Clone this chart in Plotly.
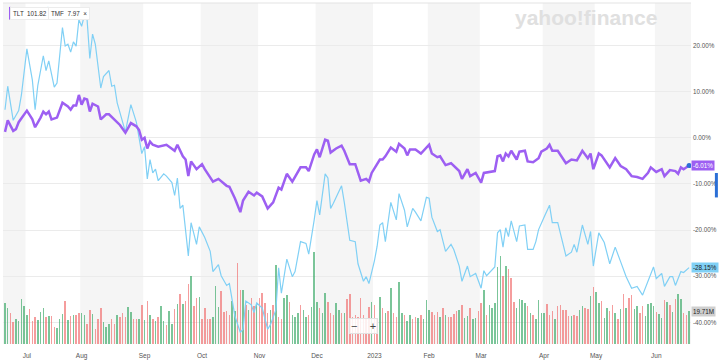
import pandas as pd
import plotly.graph_objects as go

# ---------------- data ----------------
holidays = ["2022-07-04", "2022-09-05", "2022-11-24", "2022-12-26", "2023-01-02",
            "2023-01-16", "2023-02-20", "2023-04-07", "2023-05-29", "2023-06-19"]
sessions = [d.strftime("%Y-%m-%d") for d in pd.bdate_range("2022-06-21", "2023-06-20")
            if d.strftime("%Y-%m-%d") not in holidays]

tlt_dates = ["2022-06-21","2022-06-22","2022-06-24","2022-06-27","2022-06-28","2022-07-01","2022-07-06","2022-07-07",
 "2022-07-11","2022-07-12","2022-07-13","2022-07-14","2022-07-15","2022-07-19","2022-07-21","2022-07-25","2022-07-26",
 "2022-07-27","2022-07-28","2022-07-29","2022-08-01","2022-08-02","2022-08-03","2022-08-04","2022-08-05","2022-08-09",
 "2022-08-10","2022-08-12","2022-08-15","2022-08-17","2022-08-19","2022-08-23","2022-08-25","2022-08-29","2022-08-30",
 "2022-08-31","2022-09-01","2022-09-02","2022-09-06","2022-09-07","2022-09-09","2022-09-14","2022-09-16","2022-09-19",
 "2022-09-20","2022-09-22","2022-09-23","2022-09-26","2022-09-27","2022-09-29","2022-10-03","2022-10-04","2022-10-07",
 "2022-10-11","2022-10-14","2022-10-17","2022-10-19","2022-10-21","2022-10-24","2022-10-26","2022-10-28","2022-10-31",
 "2022-11-02","2022-11-04","2022-11-08","2022-11-10","2022-11-11","2022-11-15","2022-11-17","2022-11-22","2022-11-25",
 "2022-11-28","2022-11-30","2022-12-01","2022-12-02","2022-12-06","2022-12-07","2022-12-08","2022-12-12","2022-12-14",
 "2022-12-15","2022-12-19","2022-12-21","2022-12-23","2022-12-28","2022-12-29","2022-12-30","2023-01-03","2023-01-05",
 "2023-01-06","2023-01-09","2023-01-11","2023-01-13","2023-01-17","2023-01-19","2023-01-20","2023-01-23","2023-01-25",
 "2023-01-27","2023-02-01","2023-02-02","2023-02-06","2023-02-07","2023-02-09","2023-02-13","2023-02-16","2023-02-17",
 "2023-02-22","2023-02-23","2023-02-27","2023-03-01","2023-03-02","2023-03-06","2023-03-08","2023-03-09","2023-03-10",
 "2023-03-13","2023-03-14","2023-03-15","2023-03-16","2023-03-20","2023-03-21","2023-03-23","2023-03-24","2023-03-28",
 "2023-03-30","2023-03-31","2023-04-04","2023-04-05","2023-04-06","2023-04-11","2023-04-14","2023-04-18","2023-04-20",
 "2023-04-24","2023-04-26","2023-04-27","2023-04-28","2023-05-02","2023-05-03","2023-05-08","2023-05-10","2023-05-12",
 "2023-05-16","2023-05-18","2023-05-22","2023-05-24","2023-05-26","2023-05-30","2023-06-01","2023-06-05","2023-06-06",
 "2023-06-08","2023-06-12","2023-06-13","2023-06-14","2023-06-15","2023-06-20"]
tlt_pct = [1.3,3.8,1.5,1.9,3.4,5.9,4.0,2.3,
 4.4,5.7,5.1,5.7,4.0,4.4,7.6,6.8,6.1,
 7.0,7.0,9.3,7.2,8.5,8.3,5.7,7.4,6.8,
 4.0,5.1,5.1,4.0,2.8,1.1,3.2,2.5,1.7,
 -0.4,0.0,-2.3,-0.8,-1.5,-1.9,-1.5,-2.3,-2.8,
 -1.5,-4.0,-4.7,-8.3,-5.1,-6.8,-5.7,-6.8,-9.5,
 -8.9,-10.4,-10.6,-13.1,-16.1,-13.6,-11.7,-12.5,-11.9,
 -12.7,-15.3,-14.0,-10.8,-11.2,-7.8,-9.5,-6.4,-6.4,
 -7.2,-3.6,-2.5,-4.2,-0.4,-0.6,-3.2,-2.3,-1.7,
 -2.8,-5.7,-5.7,-9.3,-8.9,-9.5,-7.6,-6.6,-4.7,
 -4.7,-4.0,-2.1,-3.0,-1.3,-2.3,-3.8,-2.5,-2.5,
 -3.4,-1.5,-3.4,-4.2,-4.0,-5.9,-5.5,-7.2,-8.9,
 -6.8,-8.3,-7.6,-9.7,-7.6,-7.4,-7.2,-4.0,-3.8,
 -5.1,-3.4,-4.0,-2.8,-4.7,-3.0,-2.8,-5.1,-5.3,
 -4.4,-3.0,-2.3,-1.5,-2.8,-2.8,-5.5,-4.7,-4.9,
 -2.8,-4.4,-3.4,-6.8,-3.4,-3.8,-6.4,-4.4,-6.1,
 -6.8,-8.3,-8.5,-8.9,-7.6,-6.4,-7.4,-6.8,-8.3,
 -7.0,-7.2,-7.8,-6.4,-6.8,-6.01]

tmf_dates = ["2022-06-21","2022-06-22","2022-06-24","2022-06-28","2022-06-29","2022-07-01","2022-07-06","2022-07-07",
 "2022-07-08","2022-07-12","2022-07-13","2022-07-14","2022-07-18","2022-07-19","2022-07-21","2022-07-22","2022-07-25",
 "2022-07-26","2022-07-27","2022-07-28","2022-07-29","2022-08-01","2022-08-02","2022-08-03","2022-08-04","2022-08-05",
 "2022-08-08","2022-08-10","2022-08-11","2022-08-15","2022-08-16","2022-08-17","2022-08-18","2022-08-23","2022-08-25",
 "2022-08-26","2022-08-29","2022-08-31","2022-09-01","2022-09-02","2022-09-06","2022-09-07","2022-09-08","2022-09-09",
 "2022-09-13","2022-09-14","2022-09-16","2022-09-19","2022-09-20","2022-09-21","2022-09-22","2022-09-26","2022-09-27",
 "2022-09-29","2022-09-30","2022-10-04","2022-10-06","2022-10-07","2022-10-11","2022-10-12","2022-10-14","2022-10-17",
 "2022-10-18","2022-10-19","2022-10-21","2022-10-24","2022-10-25","2022-10-26","2022-10-27","2022-10-28","2022-10-31",
 "2022-11-02","2022-11-03","2022-11-04","2022-11-07","2022-11-09","2022-11-10","2022-11-11","2022-11-15","2022-11-17",
 "2022-11-18","2022-11-22","2022-11-25","2022-11-28","2022-11-30","2022-12-01","2022-12-02","2022-12-06","2022-12-07",
 "2022-12-08","2022-12-09","2022-12-14","2022-12-15","2022-12-19","2022-12-21","2022-12-22","2022-12-27","2022-12-28",
 "2022-12-29","2023-01-03","2023-01-04","2023-01-05","2023-01-06","2023-01-09","2023-01-11","2023-01-13","2023-01-17",
 "2023-01-19","2023-01-20","2023-01-24","2023-01-25","2023-01-27","2023-01-31","2023-02-01","2023-02-02","2023-02-06",
 "2023-02-07","2023-02-09","2023-02-13","2023-02-14","2023-02-16","2023-02-17","2023-02-22","2023-02-23","2023-02-27",
 "2023-03-01","2023-03-02","2023-03-03","2023-03-08","2023-03-09","2023-03-10","2023-03-13","2023-03-14","2023-03-15",
 "2023-03-16","2023-03-20","2023-03-21","2023-03-23","2023-03-24","2023-03-28","2023-03-29","2023-03-30","2023-04-03",
 "2023-04-05","2023-04-06","2023-04-11","2023-04-14","2023-04-18","2023-04-19","2023-04-20","2023-04-24","2023-04-26",
 "2023-04-27","2023-04-28","2023-05-02","2023-05-04","2023-05-08","2023-05-10","2023-05-12","2023-05-16","2023-05-18",
 "2023-05-22","2023-05-24","2023-05-26","2023-05-31","2023-06-01","2023-06-05","2023-06-06","2023-06-08","2023-06-09",
 "2023-06-12","2023-06-14","2023-06-15","2023-06-20"]
tmf_pct = [6.1,11.2,3.8,5.9,9.3,19.3,12.5,6.1,
 11.4,17.8,14.6,16.7,11.0,11.9,23.9,19.9,20.3,
 18.6,20.8,19.9,25.6,24.2,26.5,25.6,17.2,22.5,
 20.3,10.8,13.3,14.6,11.2,11.4,7.6,1.3,7.2,
 5.5,3.4,-3.4,-1.9,-8.9,-4.7,-7.6,-6.8,-9.3,
 -7.8,-8.3,-9.7,-12.5,-8.7,-15.3,-14.6,-25.6,-18.4,
 -23.1,-19.3,-21.6,-24.6,-29.0,-27.5,-29.9,-32.0,-31.6,
 -35.2,-38.6,-42.2,-41.5,-35.4,-35.8,-36.2,-37.9,-35.8,
 -36.9,-39.4,-41.5,-40.5,-37.3,-28.2,-33.7,-26.3,-30.1,
 -29.0,-22.5,-22.9,-25.2,-17.8,-13.6,-16.7,-7.8,-8.7,
 -15.3,-14.2,-10.4,-14.0,-22.2,-22.5,-27.3,-31.1,-30.1,
 -31.6,-26.7,-23.5,-18.9,-18.4,-22.5,-14.0,-17.8,-12.1,
 -15.7,-19.3,-15.3,-16.1,-18.0,-12.9,-13.1,-17.2,-20.3,
 -19.9,-24.6,-23.1,-24.2,-27.8,-31.1,-27.8,-30.1,-29.4,
 -32.6,-28.8,-29.9,-28.0,-20.6,-19.9,-23.7,-19.5,-21.4,
 -18.0,-22.5,-19.1,-18.9,-24.2,-24.2,-22.5,-19.9,-17.2,
 -14.6,-18.4,-18.4,-25.6,-24.8,-23.1,-24.8,-18.9,-23.1,
 -20.3,-27.8,-20.6,-22.7,-27.3,-23.7,-26.9,-30.1,-32.6,
 -32.2,-34.1,-30.9,-28.0,-30.5,-29.4,-32.2,-30.1,-30.1,
 -32.0,-29.0,-29.2,-28.15]

# TLT daily volume (millions), one per session
tlt_volume_m = [
 24.8,21.8,18.9,13.0,14.8,13.6,27.1,23.0,17.7,21.2, 13.6,16.5,14.2,19.5,21.8,16.5,17.1,17.1,10.0,9.4,
 15.3,18.3,26.0,14.2,17.1,17.7,17.7,18.9,18.9,17.7, 11.8,20.7,18.3,8.9,15.3,21.8,13.0,10.0,11.8,14.8,
 11.8,17.7,16.5,18.9,16.5,22.4,19.5,15.3,15.3,14.8, 23.6,14.2,26.0,17.7,15.3,13.6,16.5,23.0,13.6,11.2,
 20.1,11.8,21.2,24.2,30.1,24.2,26.0,36.0,40.7,23.0, 27.7,28.3,14.8,21.8,14.8,15.3,16.5,34.8,22.4,31.9,
 19.5,20.1,17.7,26.0,20.1,
 48.4,32.5,32.5,23.6,20.7,27.7,23.0,24.8,27.7,30.7, 24.8,18.9,20.7,23.6,47.2,16.5,14.8,27.7,29.5,25.4,
 17.7,16.5,18.9,23.6,20.7,16.5,17.7,22.4,55.5,25.4, 21.8,18.9,30.7,25.4,18.9,17.7,24.8,20.7,18.9,18.9,
 27.1,30.1,16.5,17.7,16.5,27.7,17.7,15.9,22.4,25.4, 23.6,15.9,28.3,21.8,18.9,20.1,33.6,18.9,16.5,37.2,
 18.9,17.7,13.6,17.7,14.8,16.5,15.9,17.7,14.8,26.6, 20.7,19.5,17.7,19.5,16.5,21.8,17.7,16.5,16.5,18.3,
 20.1,
 20.7,23.6,15.9,17.1,21.8,14.8,15.9,20.1,24.8,32.5, 17.7,23.6,21.8,24.8,46.0,53.1,40.7,46.6,44.8,39.5,
 25.4,21.8,27.1,26.6,24.8,23.0,18.9,17.7,15.3,26.6, 18.9,18.9,24.2,17.7,20.1,14.8,23.0,23.6,20.7,20.7,
 17.1,17.1,17.7,17.1,20.7,23.0,21.8,21.2,28.9,34.2, 31.3,24.8,26.0,15.9,21.8,20.1,23.6,18.9,14.8,21.2,
 30.1,21.8,27.7,29.5,21.2,23.0,18.9,23.0,17.1,24.2, 24.8,23.0,19.5,18.3,15.9,26.6,25.4,23.6,19.5,27.1,
 30.1,27.1,18.9,17.7,19.71]
# g = up day, r = down day (one letter per session)
tlt_volume_dir = ("ggrrgggggr" "rrgggrgrrg" "ggrgrgrrgg" "rrgrrrgggr" "rgrrrggrrg"
                  "rgrgrgrggr" "ggrgrgrrgr" "rgrrrrgggr" "rrrgg"
                  "rrgrgrrgrr" "rrgrgrrggr" "gggrggrggg" "rggrrrggrg" "rrrrrrrrrg"
                  "rrgrgrgrrg" "grggrrgrgg" "grrrgrgrrr" "r"
                  "grggrggrrg" "rgggggrgrr" "rggggrgrgg" "ggrrrgrrrr" "rgrrggrrgr"
                  "ggrggrrgrg" "rgrrggrrgg" "ggrggrgrgr" "ggrrg")

tick_pcts = [20, 10, 0, -10, -20, -30, -40]
legend_items = [("TLT", "101.82"), ("TMF", "7.97")]

# ---------------- style ----------------
C_TLT = "#9d5ff2"
C_TMF = "#80d0f5"
C_UP = "rgba(60,170,105,0.68)"
C_DN = "rgba(240,110,110,0.68)"
BAND = "#f5f5f5"
FONT = "Liberation Sans"

W, H = 720, 363
PL, PR, PT, PB = 3, 694, 3, 352


def px_x(p):
    return (p - PL) / (PR - PL)


def px_y(p):
    return 1 - (p - PT) / (PB - PT)


fig = go.Figure()

fig.add_trace(go.Bar(
    x=sessions, y=tlt_volume_m, yaxis="y",
    marker=dict(color=[C_UP if c == "g" else C_DN for c in tlt_volume_dir], line=dict(width=0)),
    width=0.55, hoverinfo="skip", showlegend=False))

fig.add_trace(go.Scatter(
    x=tmf_dates, y=tmf_pct, yaxis="y2", mode="lines",
    line=dict(color=C_TMF, width=1.2), showlegend=False, hoverinfo="skip"))
fig.add_trace(go.Scatter(
    x=tlt_dates, y=tlt_pct, yaxis="y2", mode="lines",
    line=dict(color=C_TLT, width=2.5), showlegend=False, hoverinfo="skip"))
fig.add_trace(go.Scatter(
    x=[tlt_dates[-1]], y=[tlt_pct[-1]], yaxis="y2", mode="markers",
    marker=dict(color="#2b6fd6", size=5), showlegend=False, hoverinfo="skip"))

# month bands
month_keys = [s[:7] for s in sessions]
firsts = [i for i in range(len(sessions)) if i == 0 or month_keys[i] != month_keys[i - 1]]
shapes = []
for m, f in enumerate(firsts):
    x0 = -1 if m == 0 else f - 0.5
    x1 = firsts[m + 1] - 0.5 if m + 1 < len(firsts) else len(sessions) + 1
    if m % 2 == 0:
        shapes.append(dict(type="rect", xref="x", yref="paper", x0=x0, x1=x1, y0=0, y1=1,
                           fillcolor=BAND, line=dict(width=0), layer="below"))
shapes.append(dict(type="line", xref="paper", yref="paper", x0=0, x1=1, y0=1, y1=1,
                   line=dict(color="#e3e3e3", width=1)))
shapes.append(dict(type="rect", xref="paper", yref="paper", x0=px_x(718), x1=px_x(721),
                   y0=px_y(202), y1=px_y(177), fillcolor="#2b6fd6", line=dict(width=0)))

month_names = {1: "2023", 2: "Feb", 3: "Mar", 4: "Apr", 5: "May", 6: "Jun", 7: "Jul",
               8: "Aug", 9: "Sep", 10: "Oct", 11: "Nov", 12: "Dec"}
tickvals = [sessions[f] for f in firsts[1:]]
ticktext = [month_names[int(sessions[f][5:7])] for f in firsts[1:]]

annotations = []
# legend chips
chip_x = [9, 47]
for (name, val), x0, col in zip(legend_items, chip_x, [C_TLT, C_TMF]):
    txt = f"{name}  {val}" + ("  ×" if name == "TMF" else "")
    annotations.append(dict(xref="paper", yref="paper", x=px_x(x0 + 1), y=px_y(13.5),
                            xanchor="left", yanchor="middle", text=txt, showarrow=False,
                            font=dict(size=6.3, color="#333", family=FONT),
                            bgcolor="white", bordercolor="#ececec", borderwidth=1, borderpad=2))
    shapes.append(dict(type="rect", xref="paper", yref="paper", x0=px_x(x0), x1=px_x(x0 + 2),
                       y0=px_y(20), y1=px_y(7), fillcolor=col, line=dict(width=0)))

# watermark
annotations.append(dict(xref="paper", yref="paper", x=px_x(589), y=px_y(18), text="<b>yahoo!finance</b>",
                        showarrow=False, font=dict(size=21, color="#e0e0e0", family=FONT),
                        xanchor="center", yanchor="middle"))
# zoom buttons
annotations.append(dict(xref="paper", yref="paper", x=px_x(365), y=px_y(342), text="−    +",
                        showarrow=False, font=dict(size=11, color="#444", family=FONT),
                        bgcolor="rgba(255,255,255,0.85)", bordercolor="#e2e2e2", borderwidth=1, borderpad=1))
# last value tags
annotations.append(dict(xref="paper", yref="y2", x=1, y=tlt_pct[-1], xanchor="left", yanchor="middle",
                        text=f"{tlt_pct[-1]:.2f}%", showarrow=False, bgcolor=C_TLT, borderpad=1,
                        font=dict(size=6.3, color="white", family=FONT)))
annotations.append(dict(xref="paper", yref="y2", x=1, y=tmf_pct[-1], xanchor="left", yanchor="middle",
                        text=f"{tmf_pct[-1]:.2f}%", showarrow=False, bgcolor=C_TMF, borderpad=1,
                        font=dict(size=6.3, color="#222", family=FONT)))
annotations.append(dict(xref="paper", yref="y", x=1, y=tlt_volume_m[-1], xanchor="left", yanchor="middle",
                        text=f"{tlt_volume_m[-1]:.2f}M", showarrow=False, bgcolor="#cfcfcf", borderpad=1,
                        font=dict(size=6.3, color="#222", family=FONT)))

fig.update_layout(
    width=W, height=H,
    margin=dict(l=PL, r=W - PR, t=PT, b=H - PB),
    paper_bgcolor="white", plot_bgcolor="white",
    showlegend=False,
    bargap=0,
    hovermode=False,
    xaxis=dict(type="category", categoryorder="array", categoryarray=sessions,
               range=[-0.73, len(sessions) - 0.3], tickvals=tickvals, ticktext=ticktext,
               showgrid=False, zeroline=False, ticks="", showline=False,
               ticklabelstandoff=6,
               tickfont=dict(size=6.5, color="#555", family=FONT)),
    yaxis=dict(range=[0, 205], visible=False, showgrid=False, fixedrange=True),
    yaxis2=dict(overlaying="y", side="right", range=[-44.7, 29.24],
                tickvals=tick_pcts, ticktext=[f"{v:.2f}%" for v in tick_pcts],
                showgrid=True, gridcolor="#ebebeb", gridwidth=1, zeroline=False, ticks="",
                ticklabelstandoff=1,
                tickfont=dict(size=6.3, color="#555", family=FONT)),
    shapes=shapes, annotations=annotations,
)

fig.write_html("out.html", config={"displayModeBar": False, "staticPlot": True},
               post_script="document.body.style.margin='0';document.body.style.overflow='hidden';")
